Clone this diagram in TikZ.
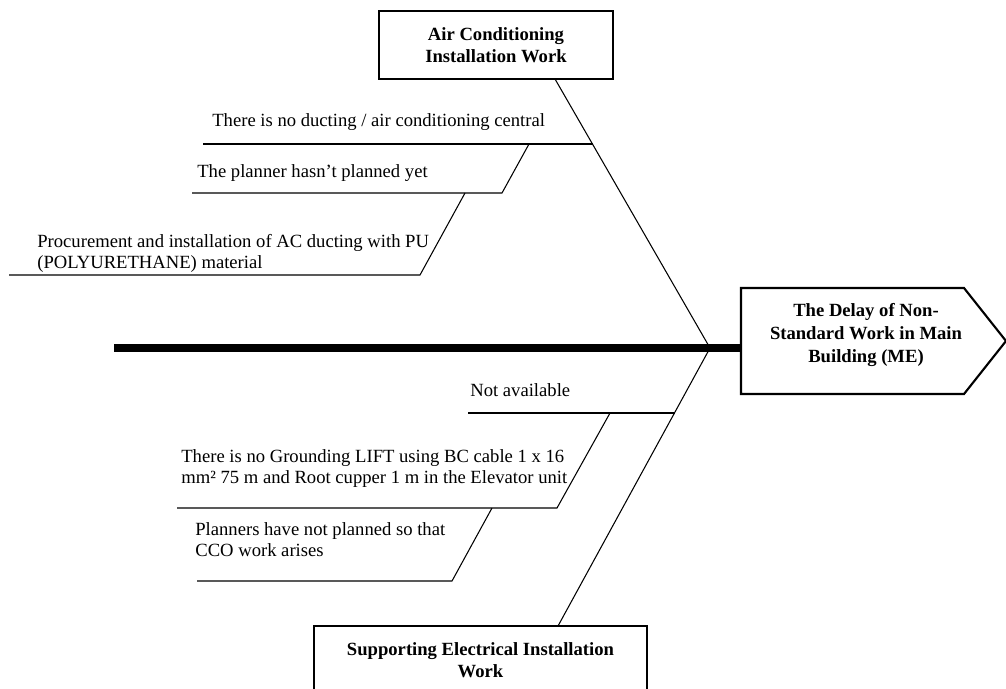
\documentclass[tikz,border=0pt]{standalone}
\usepackage{fontspec}
\setmainfont{Liberation Serif}
\usepackage{tikz}

\begin{document}
\begin{tikzpicture}[x=0.2mm,y=-0.2mm,
  box/.style={draw,line width=1.2pt,minimum width=46.8mm,minimum height=13.6mm,
    align=center,inner sep=0pt,font=\fontsize{10.6}{12.5}\selectfont\bfseries},
  cause/.style={inner sep=0pt,align=left,font=\fontsize{10.6}{12}\selectfont},
  bone/.style={line width=0.6pt}]
  \useasboundingbox (0,0) rectangle (1006,688);
  \clip (0,0) rectangle (1006,688);

  % categories
  \node[box] (ac) at (496,45) {Air Conditioning\\Installation Work};
  \node[box,minimum width=66.6mm] (el) at (480.5,660) {Supporting Electrical Installation\\Work};

  % head
  \draw[line width=1.2pt] (741,288) -- (964,288) -- (1006,341) -- (964,394) -- (741,394) -- cycle;
  \node[inner sep=0pt,align=center,font=\fontsize{10.6}{13.3}\selectfont\bfseries] (head) at (866,335) {The Delay of Non-\\Standard Work in Main\\Building (ME)};

  % spine
  \coordinate (tail) at (114,348);
  \coordinate (mouth) at (741,348);
  \coordinate (jn) at (710,348);
  \coordinate (acfoot) at (555,79);
  \coordinate (eltop) at (558,626);
  \draw[line width=4.5pt] (tail) -- (mouth);
  \draw[bone] (acfoot) -- (jn) -- (eltop);

  % causes, upper side
  \node[cause,anchor=base west] (c1) at (212,126) {There is no ducting / air conditioning central};
  \node[cause,anchor=base west] (c2) at (197,177.5) {The planner hasn’t planned yet};
  \node[cause,anchor=west] (c3) at (37,253.3) {Procurement and installation of AC ducting with PU\\(POLYURETHANE) material};

  \coordinate (u1a) at (203,144);   % under c1
  \coordinate (u1b) at (592.5,144); % on the spine
  \coordinate (u1c) at (529,144);   % foot of slant to c2
  \coordinate (u2a) at (192,193);
  \coordinate (u2b) at (502,193);
  \coordinate (u2c) at (465,193);   % foot of slant to c3
  \coordinate (u3a) at (9,275);
  \coordinate (u3b) at (420,275);
  \draw[bone] (u1a) -- (u1b);
  \draw[bone] (u1c) -- (u2b) -- (u2a);
  \draw[bone] (u2c) -- (u3b) -- (u3a);

  % causes, lower side
  \node[cause,anchor=base west] (c4) at (470,396) {Not available};
  \node[cause,anchor=west] (c5) at (181,468.7) {There is no Grounding LIFT using BC cable 1 x 16\\mm² 75 m and Root cupper 1 m in the Elevator unit};
  \node[cause,anchor=west] (c6) at (195,539.6) {Planners have not planned so that\\CCO work arises};

  \coordinate (l1a) at (468,413);
  \coordinate (l1b) at (674.5,413); % on the spine
  \coordinate (l1c) at (610,413);   % foot of slant to c5
  \coordinate (l2a) at (177,508);
  \coordinate (l2b) at (557,508);
  \coordinate (l2c) at (492,508);   % foot of slant to c6
  \coordinate (l3a) at (197,581);
  \coordinate (l3b) at (452,581);
  \draw[bone] (l1a) -- (l1b);
  \draw[bone] (l1c) -- (l2b) -- (l2a);
  \draw[bone] (l2c) -- (l3b) -- (l3a);
\end{tikzpicture}
\end{document}
